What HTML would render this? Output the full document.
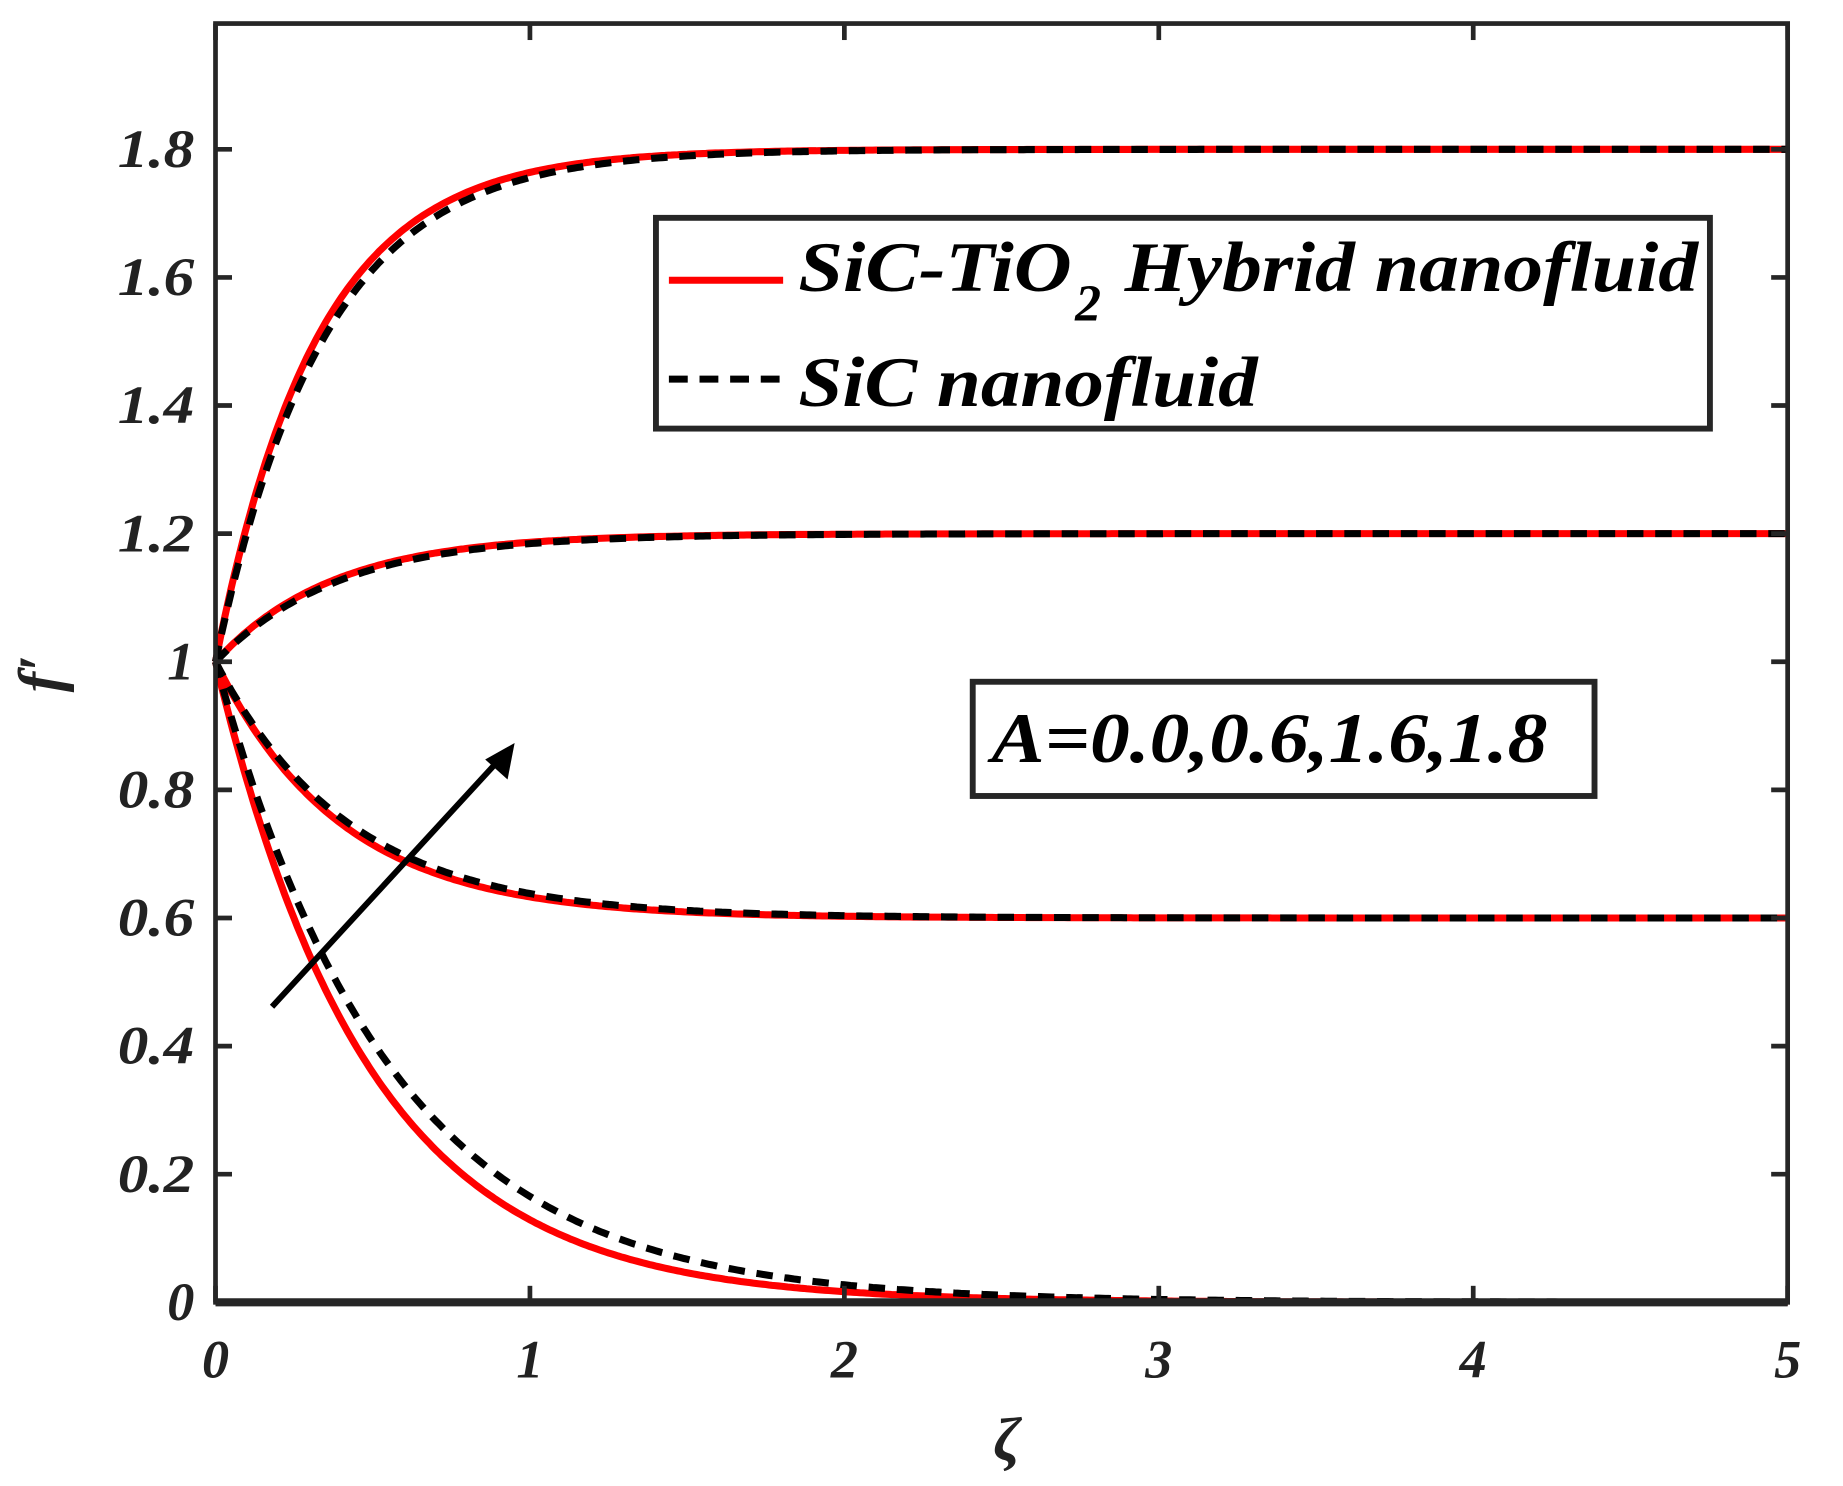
<!DOCTYPE html>
<html><head><meta charset="utf-8"><style>html,body{margin:0;padding:0;background:#fff}svg{display:block}</style></head>
<body>
<svg id="s" width="1843" height="1486" viewBox="0 0 1565 1262" preserveAspectRatio="none" xmlns="http://www.w3.org/2000/svg" font-family="Liberation Serif, serif" font-weight="bold" font-style="italic" fill="#222">
<rect x="0" y="0" width="1565" height="1262" fill="#fff"/>
<g id="curves" fill="none"></g>
<rect x="183" y="20" width="1335" height="1086" fill="none" stroke="#262626" stroke-width="4"/>
<line x1="183" y1="1106" x2="1518" y2="1106" stroke="#262626" stroke-width="7"/>
<g id="ticks" stroke="#262626" stroke-width="4"></g>
<g id="labels" font-size="46"></g>
<text x="855" y="1240" font-size="52" text-anchor="middle">ζ</text>
<text x="52" y="572" font-size="52" text-anchor="middle" transform="rotate(-90 52 572)">f′</text>
<line x1="231" y1="855" x2="425" y2="644" stroke="#000" stroke-width="5"/>
<polygon points="437,631 431,662 412,645" fill="#000"/>
<rect x="557" y="185" width="895" height="179" fill="#fff" stroke="#262626" stroke-width="5"/>
<line x1="568" y1="238" x2="665" y2="238" stroke="red" stroke-width="6"/>
<line x1="568" y1="322" x2="665" y2="322" stroke="#000" stroke-width="6" stroke-dasharray="16,10"/>
<text x="678" y="247" font-size="60" fill="#000" textLength="232" lengthAdjust="spacingAndGlyphs">SiC-TiO</text>
<text x="913" y="272" font-size="44" fill="#000" textLength="22" lengthAdjust="spacingAndGlyphs">2</text>
<text x="955" y="247" font-size="60" fill="#000" textLength="487" lengthAdjust="spacingAndGlyphs">Hybrid nanofluid</text>
<text x="678" y="345" font-size="60" fill="#000" textLength="390" lengthAdjust="spacingAndGlyphs">SiC nanofluid</text>
<rect x="826" y="579" width="528" height="97" fill="#fff" stroke="#262626" stroke-width="5"/>
<text x="842" y="647" font-size="60" fill="#000" textLength="472" lengthAdjust="spacingAndGlyphs">A=0.0,0.6,1.6,1.8</text>
</svg>
<script>
var ns="http://www.w3.org/2000/svg";
function X(v){return 183+v*267}
function Y(v){return 1106-v*544}
var cg=document.getElementById('curves');
function path(A,k,dash){var d="";for(var i=0;i<=500;i++){var z=i/100;var f=A+(1-A)*Math.exp(-k*z);d+=(i?"L":"M")+X(z).toFixed(1)+","+Y(f).toFixed(1);}
var p=document.createElementNS(ns,"path");p.setAttribute("d",d);p.setAttribute("stroke",dash?"#000":"red");p.setAttribute("stroke-width","6");if(dash)p.setAttribute("stroke-dasharray","14,10");cg.appendChild(p);}
var C=[[0,2.05,1.8],[0.6,2.5,2.35],[1.2,2.7,2.55],[1.8,3.1,2.9]];
C.forEach(function(c){path(c[0],c[1],false);});
C.forEach(function(c){path(c[0],c[2],true);});
var tg=document.getElementById('ticks'),lg=document.getElementById('labels');
function ln(a,b,c,d){var l=document.createElementNS(ns,"line");l.setAttribute("x1",a);l.setAttribute("y1",b);l.setAttribute("x2",c);l.setAttribute("y2",d);tg.appendChild(l);}
function tx(x,y,s,anc,tl){var t=document.createElementNS(ns,"text");t.setAttribute("x",x);t.setAttribute("y",y);t.setAttribute("text-anchor",anc);if(tl){t.setAttribute("textLength",tl);t.setAttribute("lengthAdjust","spacingAndGlyphs");}t.textContent=s;lg.appendChild(t);}
for(var i=0;i<=5;i++){ln(X(i),1106,X(i),1092);ln(X(i),20,X(i),34);tx(X(i),1170,String(i),"middle");}
var yl=["0","0.2","0.4","0.6","0.8","1","1.2","1.4","1.6","1.8"];
for(var j=0;j<yl.length;j++){var v=j*0.2;ln(183,Y(v),197,Y(v));ln(1518,Y(v),1504,Y(v));tx(165,Y(v)+15,yl[j],"end",yl[j].length>1?65:null);}
</script>
</body></html>
